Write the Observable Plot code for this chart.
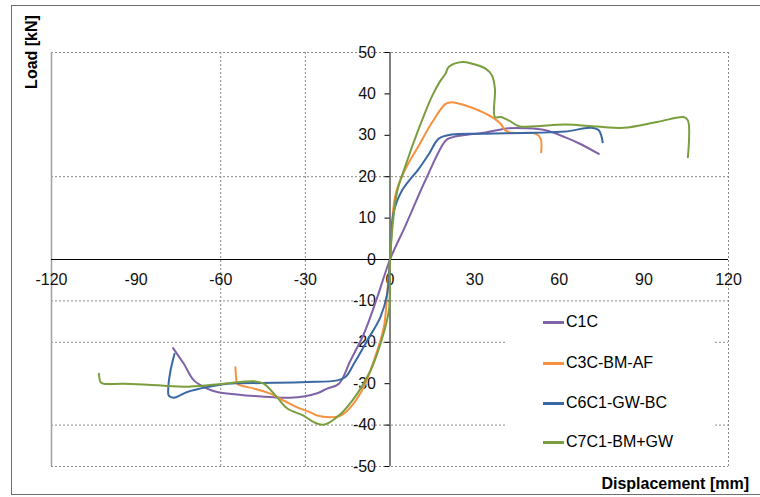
<!DOCTYPE html>
<html>
<head>
<meta charset="utf-8">
<script src="https://cdn.jsdelivr.net/npm/d3@7"></script>
<script src="https://cdn.jsdelivr.net/npm/@observablehq/plot@0.6"></script>
<style>
  html, body { margin:0; padding:0; background:#fff; }
  body { width:760px; height:497px; overflow:hidden; position:relative; font-family:"Liberation Sans", Arial, sans-serif; }
  #chart { position:absolute; left:0; top:0; }
  #outer { position:absolute; left:11px; top:5px; width:760px; height:490px; border:1px solid #6e6e6e; box-sizing:border-box; }
  .ytitle { position:absolute; left:32px; top:52px; transform:translate(-50%,-50%) rotate(-90deg); font-weight:bold; font-size:16px; white-space:nowrap; color:#000; }
  .xtitle { position:absolute; right:11px; top:484px; transform:translateY(-50%); font-weight:bold; font-size:16px; white-space:nowrap; color:#000; }
  #legend { position:absolute; left:505px; top:305px; width:208px; height:155px; background:#fff; }
  .item { position:absolute; left:38px; height:20px; display:flex; align-items:center; font-size:16px; color:#000; white-space:nowrap; }
  .swatch { width:21px; height:3px; margin-right:2px; }
</style>
</head>
<body>
<div id="outer"></div>
<div id="chart"></div>
<div class="ytitle">Load [kN]</div>
<div class="xtitle">Displacement [mm]</div>
<div id="legend"></div>
<script>
// ---- data ----
const seriesNames = ["C1C", "C3C-BM-AF", "C6C1-GW-BC", "C7C1-BM+GW"];
const seriesColors = ["#7f62a8", "#f7913f", "#3a68a3", "#7a9e3e"];

const xTicks = [-120, -90, -60, -30, 0, 30, 60, 90, 120];
const yTicks = [-50, -40, -30, -20, -10, 0, 10, 20, 30, 40, 50];
const xGrid = [-60, -30];
const yGrid = [20, -10, -20, -40];

const c1cX = [-76.9, -73.1, -69.5, -64.8, -61.3, -54.2, -48, -41.2, -35.3, -30.6, -25.8, -22.3, -18.1, -14, -9.3, -4.5, 0, 5.5, 12.6, 19.7, 22, 33.9, 42.1, 48, 55.1, 62.2, 67.5, 74];
const c1cY = [-21.4, -25.2, -29.2, -31.2, -32.0, -32.6, -33.0, -33.3, -33.4, -33.1, -32.3, -31.2, -30, -24.4, -18, -9.1, 0, 8.2, 19.2, 28.7, 29.5, 30.7, 31.7, 31.7, 31.2, 29.5, 27.9, 25.5];

const c3cX = [-54.8, -54.5, -54.2, -48, -42.4, -37, -32.9, -28, -25.8, -21.1, -17.5, -14, -9.3, -5.7, -2.2, -1, 0, 1.9, 5.5, 10.2, 15, 19.7, 22, 26.8, 31.5, 36.2, 39.2, 40.9, 43.3, 51.6, 53.4, 53.6];
const c3cY = [-26, -29, -30, -31.2, -32.4, -34.3, -35.7, -37, -37.7, -38.1, -37.7, -35.7, -30.8, -24.4, -16.4, -8.3, 0, 15.5, 21.9, 27.5, 33.2, 37.6, 38, 37.2, 36, 34.4, 32.8, 31.2, 30.6, 30.4, 29.2, 25.9];

const c6cX = [-76.4, -77.8, -78.6, -78.4, -76.6, -71.9, -64.8, -57.7, -53, -41.2, -29.4, -18.7, -15.8, -12.8, -8.1, -3.4, -1, 0, 1.3, 4.3, 10.2, 13.8, 17.3, 22, 33.9, 51.6, 62.2, 71.1, 74, 75.4];
const c6cY = [-22.8, -26.8, -31, -32.9, -33.4, -32, -30.8, -30, -29.9, -29.8, -29.6, -29.2, -28.4, -25.2, -19.6, -13.9, -8.3, 0, 11.4, 16.7, 21.9, 25.5, 29.2, 30.2, 30.4, 30.6, 30.9, 31.8, 31.2, 28.3];

const c7cX = [-103.2, -102.6, -101.5, -94.4, -82.5, -70.7, -58.9, -48.3, -44.8, -40, -36.4, -30.7, -27, -23.5, -17.5, -11.6, -6.9, -3.4, -0.4, 0, 2.5, 5.5, 10.2, 15, 17.9, 19.7, 20.8, 25.6, 29.1, 33.9, 36.2, 37.2, 37.2, 39.2, 42.1, 45.7, 51.6, 62.2, 73.4, 82.9, 94.7, 104.1, 105.6, 105.6];
const c7cY = [-27.6, -29.6, -30, -30, -30.4, -30.7, -30, -29.4, -30, -33.3, -36, -37.7, -39.3, -39.9, -37.3, -32.4, -26.8, -20.4, -12.3, 0, 16.3, 22.7, 31.6, 39.6, 43.2, 44.9, 46.5, 47.7, 47.3, 46.1, 44.4, 41.2, 34.4, 34.4, 33.6, 32.2, 32.2, 32.6, 32.1, 31.8, 33.2, 34.4, 33.6, 24.7];

// ---- build table ----
const allX = [c1cX, c3cX, c6cX, c7cX];
const allY = [c1cY, c3cY, c6cY, c7cY];
const rows = [];
seriesNames.forEach((name, s) => {
  allX[s].forEach((x, i) => rows.push({series: name, x, y: allY[s][i]}));
});

const gridStyle = {stroke: "#8a8a8a", strokeWidth: 1, strokeDasharray: "2,2"};

const chart = Plot.plot({
  width: 760,
  height: 497,
  marginLeft: 51,
  marginRight: 32,
  marginTop: 52,
  marginBottom: 31,
  x: {domain: [-120, 120], axis: null},
  y: {domain: [-50, 50], axis: null},
  color: {domain: seriesNames, range: seriesColors},
  style: {fontFamily: '"Liberation Sans", Arial, sans-serif', fontSize: "16px", background: "transparent"},
  marks: [
    Plot.ruleX(xGrid, {x: d => d, ...gridStyle}),
    Plot.ruleY(yGrid, {y: d => d, ...gridStyle}),
    Plot.ruleY([50, -50], {y: d => d, ...gridStyle}),
    Plot.ruleX([120], {x: d => d, ...gridStyle}),
    Plot.ruleX([-120], {x: d => d, stroke: "#a0a0a0", strokeWidth: 1.5}),
    Plot.ruleX([0], {x: d => d, stroke: "#000", strokeWidth: 1}),
    Plot.ruleY([0], {y: d => d, stroke: "#000", strokeWidth: 1}),
    Plot.ruleY(yTicks, {y: d => d, x1: 0, x2: 0, insetLeft: -5, stroke: "#000"}),
    Plot.text(xTicks, {x: d => d, y: 0, text: d => String(d), dy: 20, fill: "#111", fontSize: 16}),
    Plot.text(yTicks, {x: 0, y: d => d, text: d => String(d), textAnchor: "end", dx: -14, fill: "#111", fontSize: 16}),
    Plot.line(rows, {x: "x", y: "y", z: "series", stroke: "series", strokeWidth: 2, curve: "catmull-rom", strokeLinejoin: "round", strokeLinecap: "round"})
  ]
});
document.getElementById("chart").appendChild(chart);

// ---- legend ----
const legend = document.getElementById("legend");
const legendTops = [7, 48, 88, 127];
seriesNames.forEach((name, i) => {
  const it = document.createElement("div");
  it.className = "item";
  it.style.top = legendTops[i] + "px";
  const sw = document.createElement("span");
  sw.className = "swatch";
  sw.style.background = seriesColors[i];
  const tx = document.createElement("span");
  tx.textContent = name;
  it.appendChild(sw);
  it.appendChild(tx);
  legend.appendChild(it);
});
</script>
</body>
</html>
